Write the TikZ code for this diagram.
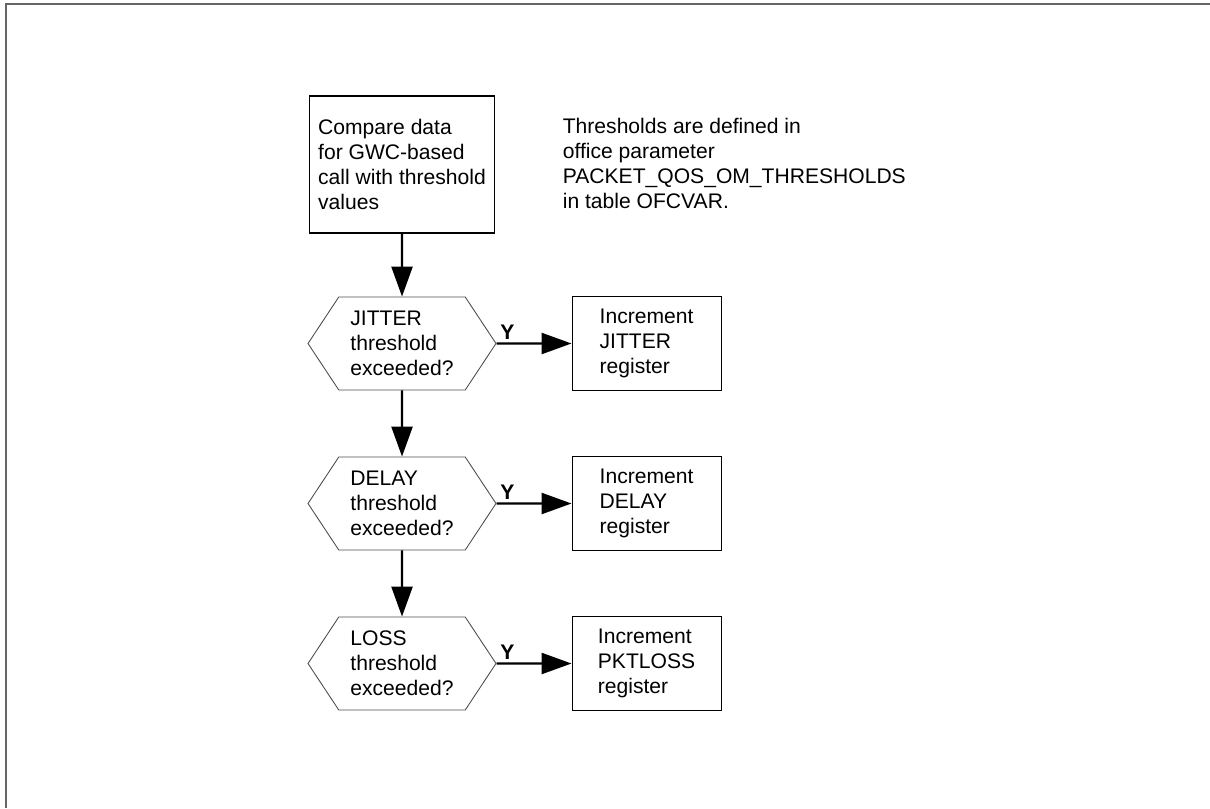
\documentclass[tikz,border=0pt]{standalone}
\usepackage{fontspec}
\setmainfont{Liberation Sans}
\usetikzlibrary{positioning,shapes.symbols,arrows.meta}

\begin{document}
\begin{tikzpicture}[
    font=\fontsize{12}{14.2}\selectfont,
    box/.style={draw, line width=0.6pt, align=left},
    regbox/.style={box, minimum width=2.98cm, minimum height=1.88cm},
    decision/.style={signal, signal to=east and west, signal pointer angle=113,
        draw=black!70, line width=0.5pt, align=left,
        minimum width=3.76cm, minimum height=1.86cm, inner sep=0pt},
    flow/.style={line width=1.4pt, -{Triangle[length=0.6cm,width=0.42cm]}},
    yes/.style={font=\fontsize{12}{14}\selectfont\bfseries, above right, inner sep=1.5pt}
]

    \useasboundingbox (0,0) rectangle (24.2,-16.16);

    % frame
    \draw[gray!80!black, line width=1pt] (0.12,-16.16) -- (0.12,-0.08) -- (24.2,-0.08);

    % start box and note
    \node[box, minimum width=3.7cm, minimum height=2.74cm] (cmp) at (8.04,-3.29)
        {Compare data\\for GWC-based\\call with threshold\\values};
    \node[align=left, anchor=west, inner sep=0pt] (note) at (11.25,-3.27)
        {Thresholds are defined in\\office parameter\\PACKET\_QOS\_OM\_THRESHOLDS\\in table OFCVAR.};

    % threshold checks
    \node[decision] (jit) at (8.04,-6.87) {JITTER\\threshold\\exceeded?};
    \node[decision] (dly) at (8.04,-10.07) {DELAY\\threshold\\exceeded?};
    \node[decision] (los) at (8.04,-13.27) {LOSS\\threshold\\exceeded?};

    % registers
    \node[regbox, right=1.5cm of jit] (regjit) {Increment\\JITTER\\register};
    \node[regbox, right=1.5cm of dly] (regdly) {Increment\\DELAY\\register};
    \node[regbox, right=1.5cm of los] (reglos) {Increment\\PKTLOSS\\register};

    % flow
    \draw[flow] (cmp) -- (jit);
    \draw[flow] (jit) -- (dly);
    \draw[flow] (dly) -- (los);

    \draw[flow] (jit) -- (regjit) node[yes, pos=0] {Y};
    \draw[flow] (dly) -- (regdly) node[yes, pos=0] {Y};
    \draw[flow] (los) -- (reglos) node[yes, pos=0] {Y};

\end{tikzpicture}
\end{document}
